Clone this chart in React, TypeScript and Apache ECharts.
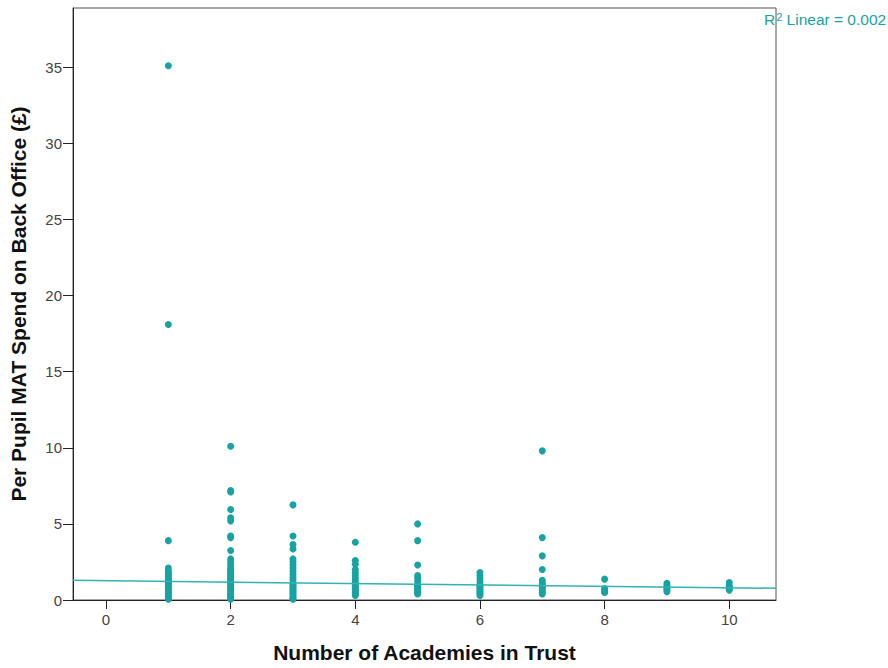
import React, { useEffect, useRef } from "react";
import * as echarts from "echarts";

const yTicks = [0, 5, 10, 15, 20, 25, 30, 35];
const xTicks = [0, 2, 4, 6, 8, 10];

const academies1 = [35.1, 18.1, 3.9, 2.1, 1.9, 1.8, 1.7, 1.6, 1.5, 1.4, 1.3, 1.2, 1.1, 1.0, 0.9, 0.8, 0.7, 0.6, 0.5, 0.4, 0.3, 0.2, 0.1, 0.05];
const academies2 = [10.1, 7.2, 7.1, 5.95, 5.4, 5.2, 4.2, 4.1, 3.25, 2.7, 2.5, 2.3, 2.1, 2.0, 1.9, 1.8, 1.7, 1.6, 1.5, 1.4, 1.3, 1.2, 1.1, 1.0, 0.9, 0.8, 0.7, 0.6, 0.5, 0.4, 0.3, 0.2, 0.1, 0.05];
const academies3 = [6.25, 4.2, 3.65, 3.35, 2.7, 2.5, 2.3, 2.1, 1.9, 1.7, 1.5, 1.3, 1.1, 1.0, 0.9, 0.8, 0.7, 0.6, 0.5, 0.4, 0.3, 0.2, 0.1, 0.05];
const academies4 = [3.8, 2.6, 2.35, 2.0, 1.8, 1.6, 1.4, 1.2, 1.0, 0.9, 0.8, 0.7, 0.6, 0.5, 0.4, 0.3];
const academies5 = [5.0, 3.9, 2.3, 1.6, 1.4, 1.2, 1.0, 0.9, 0.8, 0.7, 0.6, 0.5, 0.4];
const academies6 = [1.8, 1.6, 1.4, 1.2, 1.0, 0.9, 0.8, 0.7, 0.6, 0.5, 0.4, 0.3];
const academies7 = [9.8, 4.1, 2.9, 2.0, 1.3, 1.1, 1.0, 0.9, 0.8, 0.7, 0.6, 0.5, 0.4];
const academies8 = [1.37, 0.75, 0.65, 0.55, 0.5];
const academies9 = [1.1, 0.95, 0.85, 0.75, 0.65, 0.55];
const academies10 = [1.15, 0.95, 0.85, 0.75, 0.65];

const groups: [number, number[]][] = [
  [1, academies1], [2, academies2], [3, academies3], [4, academies4], [5, academies5],
  [6, academies6], [7, academies7], [8, academies8], [9, academies9], [10, academies10],
];

// fit line endpoints (x, y)
const fitLine = [[-0.53, 1.29], [10.75, 0.77]];

const TEAL = "#17a3a3";

export default function App() {
  const ref = useRef<HTMLDivElement>(null);
  useEffect(() => {
    if (!ref.current) return;
    const chart = echarts.init(ref.current, undefined, { renderer: "svg" });
    const points: number[][] = [];
    groups.forEach(([x, vals]) => vals.forEach((v) => points.push([x, v])));
    chart.setOption({
      animation: false,
      backgroundColor: "#ffffff",
      grid: { left: 73, right: 112, top: 8, bottom: 65, show: true, borderColor: "#555", borderWidth: 1 },
      xAxis: {
        type: "value",
        min: -0.53,
        max: 10.75,
        name: "Number of Academies in Trust",
        nameLocation: "middle",
        nameGap: 42,
        nameTextStyle: { fontFamily: "Liberation Sans, Arial", fontWeight: "bold", fontSize: 21, color: "#111" },
        axisLine: { onZero: false, lineStyle: { color: "#222", width: 1 } },
        axisTick: { show: true, length: 9, customValues: xTicks, lineStyle: { color: "#222" } },
        axisLabel: { customValues: xTicks, margin: 12, fontFamily: "Liberation Sans, Arial", fontSize: 15, color: "#444" },
        splitLine: { show: false },
      },
      yAxis: {
        type: "value",
        min: 0,
        max: 38.9,
        name: "Per Pupil MAT Spend on Back Office (£)",
        nameLocation: "middle",
        nameGap: 44,
        nameTextStyle: { fontFamily: "Liberation Sans, Arial", fontWeight: "bold", fontSize: 21, color: "#111" },
        axisLine: { onZero: false, lineStyle: { color: "#222", width: 1 } },
        axisTick: { show: true, length: 10, customValues: yTicks, lineStyle: { color: "#222" } },
        axisLabel: { customValues: yTicks, margin: 11, fontFamily: "Liberation Sans, Arial", fontSize: 15, color: "#444" },
        splitLine: { show: false },
      },
      series: [
        {
          type: "line",
          data: fitLine,
          symbol: "none",
          lineStyle: { color: "#2fb3b3", width: 1.5 },
          z: 3,
        },
        {
          type: "scatter",
          data: points,
          symbolSize: 7,
          itemStyle: { color: TEAL, opacity: 1 },
          z: 2,
        },
      ],
      graphic: [
        {
          type: "text",
          left: 764,
          top: 11,
          style: {
            text: "{a|R}{s|2}{a| Linear = 0.002}",
            rich: {
              a: { fontFamily: "Liberation Sans, Arial", fontSize: 15.5, fill: TEAL, color: TEAL },
              s: { fontFamily: "Liberation Sans, Arial", fontSize: 11, fill: TEAL, color: TEAL, verticalAlign: "top", padding: [0, 0, 6, 1] },
            },
          },
        },
      ],
    });
    return () => chart.dispose();
  }, []);
  return <div ref={ref} style={{ position: "fixed", left: 0, top: 0, width: 888, height: 668 }} />;
}
